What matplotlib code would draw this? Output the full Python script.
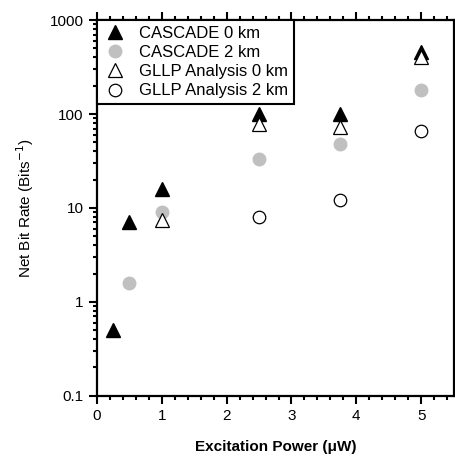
import matplotlib
matplotlib.use('Agg')
import matplotlib.pyplot as plt
from matplotlib.ticker import MultipleLocator, LogLocator, NullFormatter

plt.rcParams['font.family'] = ['Liberation Sans', 'DejaVu Sans']

# data
x_cas0 = [0.25, 0.5, 1, 2.5, 3.75, 5]
y_cas0 = [0.5, 7, 16, 100, 100, 460]
x_cas2 = [0.5, 1, 2.5, 3.75, 5]
y_cas2 = [1.6, 9, 33, 48, 180]
x_gl0 = [1, 2.5, 3.75, 5]
y_gl0 = [7.5, 78, 73, 405]
x_gl2 = [2.5, 3.75, 5]
y_gl2 = [8, 12, 66]

labels = ['CASCADE 0 km', 'CASCADE 2 km', 'GLLP Analysis 0 km', 'GLLP Analysis 2 km']

fig = plt.figure(figsize=(4.55, 4.57), dpi=100)
ax = fig.add_axes([0.213, 0.134, 0.784, 0.822])

ax.plot(x_cas0, y_cas0, ls='none', marker='^', ms=10, mfc='black', mec='black', label=labels[0])
ax.plot(x_cas2, y_cas2, ls='none', marker='o', ms=9, mfc='#c0c0c0', mec='#c0c0c0', label=labels[1])
ax.plot(x_gl0, y_gl0, ls='none', marker='^', ms=10, mfc='white', mec='black', mew=0.9, label=labels[2])
ax.plot(x_gl2, y_gl2, ls='none', marker='o', ms=9, mfc='white', mec='black', mew=0.9, label=labels[3])

ax.set_yscale('log')
ax.set_xlim(0, 5.5)
ax.set_ylim(0.1, 1000)
ax.xaxis.set_major_locator(MultipleLocator(1))
ax.xaxis.set_minor_locator(MultipleLocator(0.2))
ax.yaxis.set_minor_locator(LogLocator(base=10, subs=range(2, 10)))
ax.yaxis.set_minor_formatter(NullFormatter())
ax.set_yticks([0.1, 1, 10, 100, 1000])
ax.set_yticklabels(['0.1', '1', '10', '100', '1000'])

ax.tick_params(which='both', direction='out', top=True, right=False, width=1.5, labelsize=11)
ax.tick_params(which='major', length=6)
ax.tick_params(which='minor', length=3)
for s in ax.spines.values():
    s.set_linewidth(1.6)

ax.set_xlabel('Excitation Power (\u03bcW)', fontsize=11, fontweight='bold', labelpad=12)
ax.set_ylabel('Net Bit Rate (Bits$^{-1}$)', fontsize=11, labelpad=10)

leg = ax.legend(loc='upper left', borderaxespad=0, fontsize=12, frameon=True, fancybox=False,
                edgecolor='black', handletextpad=0.7, labelspacing=0.25, borderpad=0.35,
                handlelength=1.5)
leg.get_frame().set_linewidth(1.5)
leg.get_frame().set_alpha(1)

fig.savefig('out.png', dpi=100)
